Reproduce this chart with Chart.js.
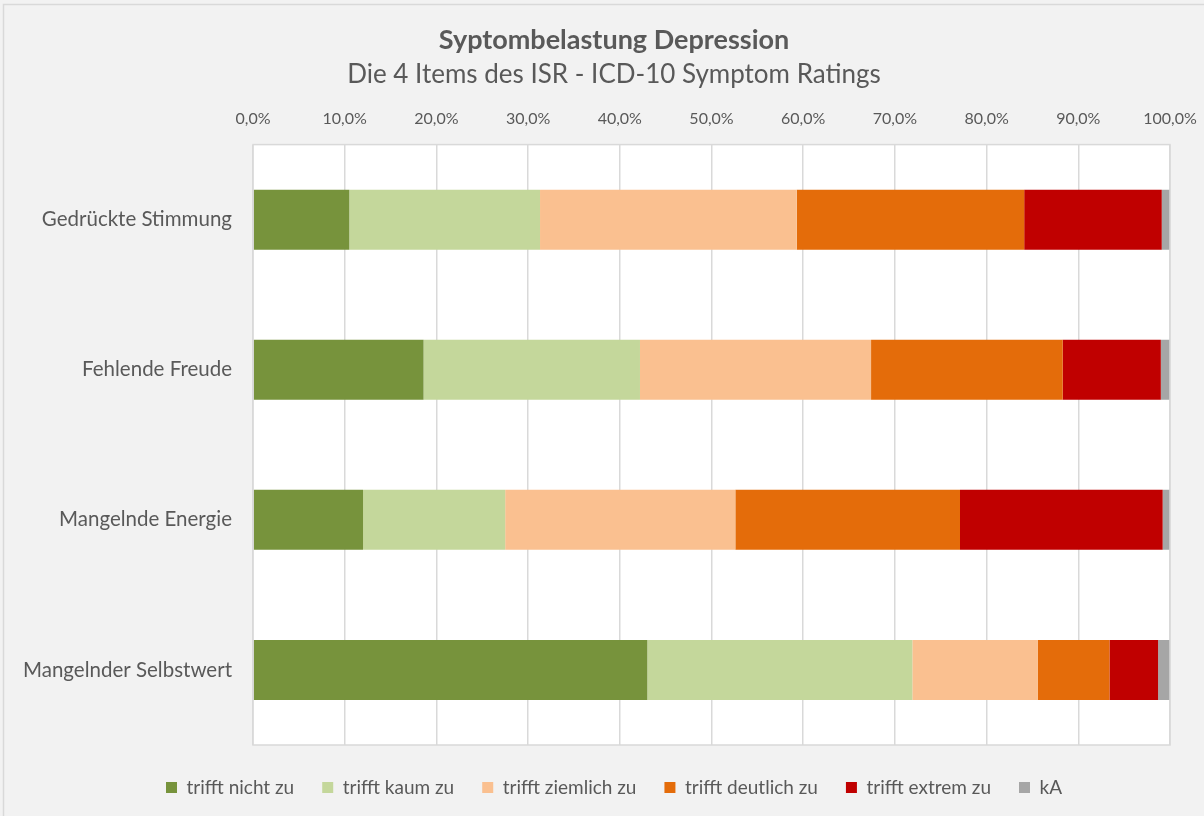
<!DOCTYPE html>
<html>
<head>
<meta charset="utf-8">
<script src="https://cdn.jsdelivr.net/npm/chart.js@4"></script>
<style>
    html, body { margin: 0; padding: 0; background: #f2f2f2; }
    #wrap { width: 1204px; height: 816px; }
</style>
</head>
<body>
<div id="wrap"><canvas id="symptoms" width="1204" height="816"></canvas></div>
<script>
const items = ['Gedrückte Stimmung', 'Fehlende Freude', 'Mangelnde Energie', 'Mangelnder Selbstwert'];

const triffNicht   = [10.5, 18.6, 12.0, 43.0];
const triffKaum    = [20.8, 23.6, 15.5, 28.9];
const triffZiemlich = [28.0, 25.2, 25.1, 13.7];
const triffDeutlich = [24.8, 20.9, 24.5, 7.8];
const triffExtrem  = [15.0, 10.7, 22.1, 5.3];
const keineAngabe  = [0.9, 1.0, 0.8, 1.3];

const seriesNames = ['trifft nicht zu', 'trifft kaum zu', 'trifft ziemlich zu', 'trifft deutlich zu', 'trifft extrem zu', 'kA'];
const seriesColors = ['#77933c', '#c4d79b', '#fac090', '#e46c0a', '#c00000', '#a6a6a6'];
const seriesValues = [triffNicht, triffKaum, triffZiemlich, triffDeutlich, triffExtrem, keineAngabe];

const FONT = "Lato, 'Open Sans', sans-serif";
const TEXT = '#595959';

// background, white plot area and frames
const excelFrame = {
    id: 'excelFrame',
    afterLayout(chart) {
        // titles and legend sit centred on the whole picture, not on the plot
        chart.boxes.forEach(b => {
            if (!b.axis) {
                b.left += 29;
                b.right += 29;
            }
        });
        chart.legend.top += 5;
        chart.legend.bottom += 5;
    },
    beforeDraw(chart) {
        const c = chart.ctx;
        const a = chart.chartArea;
        c.save();
        c.fillStyle = '#f2f2f2';
        c.fillRect(0, 0, chart.width, chart.height);
        c.strokeStyle = '#d9d9d9';
        c.lineWidth = 1.5;
        c.strokeRect(3.5, 4.5, chart.width, chart.height);
        c.fillStyle = '#ffffff';
        c.fillRect(a.left, a.top, a.right - a.left, a.bottom - a.top);
        c.restore();
    },
    afterDatasetsDraw(chart) {
        const c = chart.ctx;
        const a = chart.chartArea;
        c.save();
        c.strokeStyle = '#d9d9d9';
        c.lineWidth = 1.5;
        c.strokeRect(a.left, a.top, a.right - a.left, a.bottom - a.top);
        c.restore();
    }
};

const ctx = document.getElementById('symptoms').getContext('2d');
const chart = new Chart(ctx, {
    type: 'bar',
    data: {
        labels: items,
        datasets: seriesNames.map((name, i) => ({
            label: name,
            data: seriesValues[i],
            backgroundColor: seriesColors[i],
            borderWidth: 0,
            categoryPercentage: 1.0,
            barPercentage: 0.4
        }))
    },
    options: {
        indexAxis: 'y',
        responsive: false,
        animation: false,
        layout: {
            padding: { left: 0, right: 34, top: 0, bottom: 14 }
        },
        scales: {
            x: {
                position: 'top',
                stacked: true,
                min: 0,
                max: 100,
                afterFit(scale) {
                    scale.height = 54;
                    scale.paddingLeft = 0;
                    scale.paddingRight = 0;
                },
                grid: {
                    color: '#d9d9d9',
                    lineWidth: 1.5,
                    drawTicks: false
                },
                border: { display: false },
                ticks: {
                    stepSize: 10,
                    padding: 16,
                    color: TEXT,
                    font: { family: FONT, size: 16 },
                    callback: v => v.toFixed(1).replace('.', ',') + '%'
                }
            },
            y: {
                stacked: true,
                afterFit(scale) { scale.width = 253; },
                grid: { display: false },
                border: { display: false },
                ticks: {
                    padding: 13,
                    color: TEXT,
                    font: { family: FONT, size: 20.5 }
                }
            }
        },
        plugins: {
            title: {
                display: true,
                text: 'Syptombelastung Depression',
                color: TEXT,
                font: { family: FONT, size: 27, weight: 'bold' },
                padding: { top: 24, bottom: 0 }
            },
            subtitle: {
                display: true,
                text: 'Die 4 Items des ISR - ICD-10 Symptom Ratings',
                color: TEXT,
                font: { family: FONT, size: 26 },
                padding: { top: 3, bottom: 0 }
            },
            legend: {
                position: 'bottom',
                labels: {
                    color: TEXT,
                    boxWidth: 11,
                    boxHeight: 11,
                    padding: 28,
                    font: { family: FONT, size: 19 }
                }
            },
            tooltip: { enabled: false }
        }
    },
    plugins: [excelFrame]
});
</script>
</body>
</html>
